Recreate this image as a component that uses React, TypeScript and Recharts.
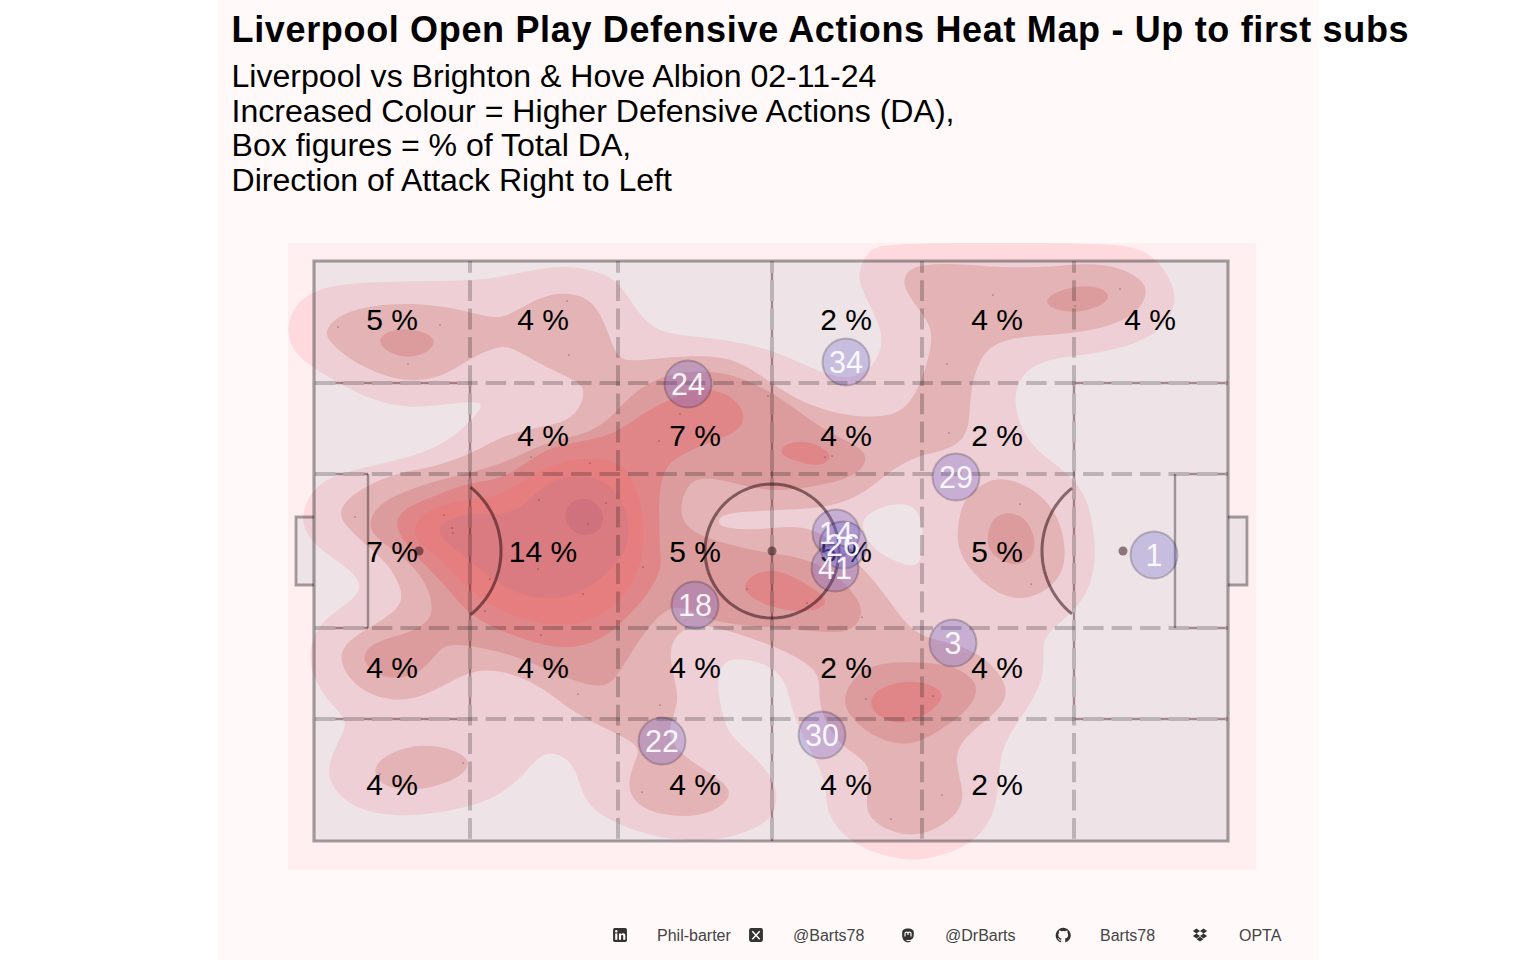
import React from "react";
import { ScatterChart, Scatter, XAxis, YAxis } from "recharts";

type P = [number, number];

const titleText = "Liverpool Open Play Defensive Actions Heat Map - Up to first subs";
const subtitleLines = [
  "Liverpool vs Brighton & Hove Albion 02-11-24",
  "Increased Colour = Higher Defensive Actions (DA),",
  "Box figures = % of Total DA,",
  "Direction of Attack Right to Left",
];

const level1: P[] = [[-26,74],[-21,91],[-1,107],[33,127],[66,142],[99,147],[126,144],[163,140],[170,144],[156,161],[133,181],[99,196],[49,207],[21,214],[-1,227],[-12,251],[-11,267],[3,287],[33,306],[48,322],[43,336],[19,352],[3,366],[-6,392],[-1,416],[13,439],[29,454],[33,466],[21,486],[13,509],[19,529],[43,549],[83,556],[126,552],[173,542],[206,519],[223,496],[236,491],[253,496],[263,512],[269,536],[286,556],[336,576],[386,581],[419,576],[456,562],[466,536],[453,506],[416,476],[409,457],[401,416],[413,394],[453,402],[473,419],[478,454],[499,494],[513,522],[511,546],[523,569],[549,589],[593,601],[626,596],[666,579],[686,542],[683,489],[713,449],[731,416],[728,386],[733,372],[756,354],[776,329],[781,299],[781,284],[776,241],[756,212],[716,187],[701,151],[701,127],[713,107],[739,97],[773,94],[823,84],[854,64],[866,31],[839,-9],[806,-18],[686,-18],[566,-18],[553,-9],[543,14],[549,31],[566,64],[569,84],[559,107],[539,117],[519,116],[486,102],[453,87],[403,77],[353,74],[329,61],[306,21],[286,11],[246,3],[196,14],[166,20],[86,20],[16,23],[-14,37],[-26,59]];
const level1Hole: P[] = [[543,261],[563,246],[593,241],[606,251],[609,274],[608,299],[599,307],[579,299],[559,289]];

const level2Main: P[] = [[10,71],[23,54],[59,44],[99,42],[133,46],[159,52],[183,58],[199,52],[226,36],[249,31],[273,36],[286,51],[296,77],[303,96],[316,101],[353,96],[396,94],[429,101],[459,124],[493,144],[536,156],[573,156],[593,147],[608,121],[619,81],[616,61],[593,34],[588,17],[599,4],[639,2],[689,7],[739,6],[773,2],[806,6],[829,19],[834,32],[823,54],[786,69],[739,74],[699,76],[669,87],[656,127],[656,161],[649,181],[626,191],[606,194],[579,207],[553,231],[519,246],[473,249],[409,251],[403,261],[409,267],[436,269],[459,267],[499,264],[536,294],[563,322],[586,356],[606,376],[639,382],[673,396],[698,429],[683,452],[649,476],[639,499],[653,536],[639,559],[606,576],[579,572],[556,559],[551,542],[558,509],[546,496],[529,486],[513,466],[503,436],[509,409],[459,384],[419,371],[386,362],[366,369],[353,389],[363,426],[364,446],[351,474],[369,496],[413,522],[418,536],[399,552],[366,557],[326,549],[311,526],[323,496],[326,486],[306,474],[259,452],[233,429],[199,412],[166,407],[139,419],[109,436],[79,441],[43,429],[23,399],[33,379],[66,361],[86,346],[89,332],[79,309],[59,289],[23,259],[29,241],[53,224],[86,211],[116,207],[156,194],[183,177],[219,167],[253,161],[266,147],[271,131],[266,121],[233,107],[199,87],[186,84],[156,97],[133,114],[99,122],[66,114],[33,97],[16,81]];
const level2Right: P[] = [[643,267],[649,237],[673,219],[693,217],[719,227],[743,251],[751,281],[751,306],[739,326],[709,341],[679,331],[656,309],[644,289]];
const level2Lower: P[] = [[59,507],[73,492],[109,482],[143,489],[159,502],[143,519],[109,529],[79,529],[63,519]];

const level3TopLeft: P[] = [[64,81],[69,72],[89,67],[113,71],[123,81],[113,92],[93,98],[73,91]];
const level3TopRight: P[] = [[729,39],[746,29],[769,24],[789,27],[797,36],[786,46],[763,52],[739,49]];
const level3Right: P[] = [[673,274],[678,257],[694,250],[713,257],[722,279],[719,296],[703,306],[686,299],[674,289]];
const level3Lower: P[] = [[528,439],[539,416],[563,401],[606,401],[639,404],[668,422],[656,449],[626,469],[606,481],[586,484],[559,476],[536,456]];
const level3Main: P[] = [[54,261],[66,241],[99,227],[133,217],[156,212],[193,201],[219,187],[249,177],[279,171],[303,151],[319,131],[353,112],[396,109],[429,117],[463,134],[493,157],[519,174],[549,187],[554,201],[539,217],[499,226],[459,231],[426,224],[396,216],[376,219],[366,241],[368,261],[383,274],[416,284],[453,292],[486,296],[519,309],[546,339],[549,356],[536,372],[503,371],[456,366],[419,364],[386,356],[359,339],[329,372],[313,399],[299,422],[283,427],[249,416],[206,396],[166,386],[133,382],[123,392],[109,409],[93,417],[66,417],[49,402],[51,389],[66,379],[99,371],[116,359],[119,346],[113,322],[93,299],[76,287],[59,274]];

const level4Main: P[] = [[79,264],[89,247],[123,234],[153,222],[183,219],[206,207],[226,191],[253,182],[299,176],[329,151],[366,134],[386,127],[413,131],[433,151],[426,171],[396,181],[366,194],[349,207],[344,241],[346,274],[346,294],[348,306],[336,332],[306,364],[286,379],[259,388],[226,384],[183,369],[153,352],[133,326],[113,306],[96,289]];
const level4Mid: P[] = [[465,189],[473,182],[493,179],[513,189],[518,197],[506,206],[486,201],[471,197]];
const level4Centre: P[] = [[428,326],[439,312],[463,308],[486,319],[513,336],[511,347],[486,352],[456,346],[436,336]];
const level4Lower: P[] = [[553,439],[569,424],[599,419],[619,424],[632,434],[619,449],[606,457],[586,464],[563,456]];

const level5: P[] = [[99,267],[109,251],[143,239],[179,237],[199,227],[233,204],[266,197],[299,197],[319,214],[329,251],[331,294],[316,329],[293,352],[266,364],[226,364],[183,349],[156,329],[133,306],[116,289],[103,281]];
const level6: P[] = [[123,267],[133,259],[153,252],[183,254],[206,249],[229,224],[253,214],[286,216],[306,234],[316,261],[314,284],[306,299],[286,319],[259,336],[226,339],[193,329],[166,309],[143,289],[129,279]];
const level7: P[] = [[249,254],[256,241],[269,236],[283,241],[291,256],[286,271],[269,276],[256,269]];

const eventXs = [24,94,126,253,255,217,276,225,292,274,130,138,139,41,366,345,454,518,511,679,633,635,706,806,761,176,171,224,269,227,264,149,66,329,433,493,548,346,328,552,619,577,717,628,668];
const eventYs = [66,103,64,40,94,196,202,239,242,263,254,267,272,256,153,180,135,195,196,34,103,172,243,28,45,318,350,308,333,374,433,502,513,306,328,342,356,444,531,438,435,558,323,534,418];

const boxXs = [78,229,381,532,683,836];
const boxYs = [58,174,290,406,523];
const boxRows: (string | null)[][] = [
  ["5 %","4 %",null,"2 %","4 %","4 %"],
  [null,"4 %","7 %","4 %","2 %",null],
  ["7 %","14 %","5 %","5 %","5 %",null],
  ["4 %","4 %","4 %","2 %","4 %",null],
  ["4 %",null,"4 %","4 %","2 %",null],
];

const playerNumbers = ["1","3","30","29","34","22","18","24","14","26","41"];
const playerXs = [840,639,508,642,532,348,381,374,522,529,521];
const playerYs = [294,382,474,216,101,480,344,123,272,284,307];

const dashedXs = [156,304,458,608,760];
const dashedYs = [122,213,367,458];

const creditLabels = ["Phil-barter","@Barts78","@DrBarts","Barts78","OPTA"];
const creditTextLeft = [657,793,945,1100,1239];
const creditIconLeft = [611.5,747.5,899.5,1054.5,1191.5];

const PITCH_W = 914;
const PITCH_H = 580;
const H_DASH = 20.45;
const H_GAP = 8;
const V_DASH = 20.8;
const V_GAP = 7.5;
const V_PHASE = 9;
const H_START = 1;

const toPts = (a: P[]) => a.map(([x, y]) => ({ x, y }));
const arc = (cx: number, cy: number, r: number, from: number, to: number) => {
  const pts: { x: number; y: number }[] = [];
  for (let i = 0; i <= 72; i++) {
    const t = ((from + ((to - from) * i) / 72) * Math.PI) / 180;
    pts.push({ x: cx + r * Math.cos(t), y: cy + r * Math.sin(t) });
  }
  return pts;
};

const NoDot = () => <g />;
const EventDot = (p: any) => <circle cx={p.cx} cy={p.cy} r={0.5} fill="#2a0a0a" />;
const SpotDot = (p: any) => <circle cx={p.cx} cy={p.cy} r={4.5} fill="#1e0005" fillOpacity={0.48} />;
const BoxText = (p: any) => (
  <text x={p.cx} y={p.cy} textAnchor="middle" dominantBaseline="central" fontFamily="'Liberation Sans', Arial, sans-serif" fontSize={30} fill="#000">
    {p.payload.label}
  </text>
);
const PlayerDot = (p: any) => (
  <circle cx={p.cx} cy={p.cy} r={23.5} fill="#645ACD" fillOpacity={0.28} stroke="#000" strokeOpacity={0.2} strokeWidth={2} />
);
const PlayerText = (p: any) => (
  <text x={p.cx} y={p.cy} textAnchor="middle" dominantBaseline="central" fontFamily="'Liberation Sans', Arial, sans-serif" fontSize={30.5} fill="#fff" fillOpacity={0.92}>
    {p.payload.label}
  </text>
);

const fillLayers: { pts: P[]; fill: string }[] = [
  { pts: level1, fill: "#FEDADE" },
  { pts: level1Hole, fill: "#FFEFF0" },
  { pts: level2Main, fill: "#F4BBBB" },
  { pts: level2Right, fill: "#F4BBBB" },
  { pts: level2Lower, fill: "#F4BBBB" },
  { pts: level3Main, fill: "#ECA2A2" },
  { pts: level3TopLeft, fill: "#ECA2A2" },
  { pts: level3TopRight, fill: "#ECA2A2" },
  { pts: level3Right, fill: "#ECA2A2" },
  { pts: level3Lower, fill: "#ECA2A2" },
  { pts: level4Main, fill: "#F08A8A" },
  { pts: level4Mid, fill: "#F08A8A" },
  { pts: level4Centre, fill: "#F08A8A" },
  { pts: level4Lower, fill: "#F08A8A" },
  { pts: level5, fill: "#F78281" },
  { pts: level6, fill: "#EA7E83" },
  { pts: level7, fill: "#DE757E" },
];

const outline: P[] = [[0,0],[PITCH_W,0],[PITCH_W,PITCH_H],[0,PITCH_H]];
const goalLeft: P[] = [[0,256],[-18,256],[-18,324],[0,324]];
const goalRight: P[] = [[914,256],[933,256],[933,324],[914,324]];
// marking lines that run under the dashed grid: they only show through its gaps
const hiddenH: P[][] = [
  [[H_START,122],[156,122]],
  [[H_START,458],[156,458]],
  [[H_START,213],[54,213]],
  [[H_START,367],[54,367]],
  [[760,122],[PITCH_W,122]],
  [[760,458],[PITCH_W,458]],
  [[861,213],[PITCH_W,213]],
  [[861,367],[PITCH_W,367]],
];
const hiddenV: P[][] = [
  [[156,122],[156,458]],
  [[760,122],[760,458]],
  [[458,0],[458,PITCH_H]],
];
const sixLines: P[][] = [
  [[54,213],[54,367]],
  [[861,213],[861,367]],
];

const xAxisProps = { type: "number" as const, dataKey: "x", domain: [-26, 942] as [number, number], hide: true };
const yAxisProps = { type: "number" as const, dataKey: "y", domain: [-18, 609] as [number, number], reversed: true, hide: true };

const boxData = boxRows.flatMap((row, r) =>
  row.flatMap((label, c) => (label ? [{ x: boxXs[c], y: boxYs[r], label }] : []))
);
const playerData = playerNumbers.map((label, i) => ({ x: playerXs[i], y: playerYs[i], label }));
const eventData = eventXs.map((x, i) => ({ x, y: eventYs[i] }));

const BLACK_LINE = "#000";
const ARC = "#1e0005";
const GAP_LINE = "#3a0a10";

const Icon = ({ i }: { i: number }) => {
  const common = { width: 16, height: 16, viewBox: "0 0 15 15", style: { position: "absolute" as const, left: creditIconLeft[i], top: 926.5 } };
  if (i === 0)
    return (
      <svg {...common}>
        <rect x="1" y="1" width="13" height="13" rx="1.5" fill="#333" />
        <rect x="3" y="6" width="2" height="6" fill="#fff" />
        <circle cx="4" cy="4" r="1.1" fill="#fff" />
        <path d="M6.5 6h2v1c.5-.8 1.2-1.1 2-1.1 1.4 0 2 1 2 2.4V12h-2V8.6c0-.7-.3-1-.9-1s-1.1.4-1.1 1.1V12h-2z" fill="#fff" />
      </svg>
    );
  if (i === 1)
    return (
      <svg {...common}>
        <rect x="1" y="1" width="13" height="13" rx="2" fill="#333" />
        <path d="M4 4l7 7.5M11 4L4 11.5" stroke="#fff" strokeWidth="1.4" />
      </svg>
    );
  if (i === 2)
    return (
      <svg {...common}>
        <path d="M2 5.5C2 3 3.6 1.5 7.5 1.5S13 3 13 5.5c0 3.5-.3 6-3.5 6.6-1.5.3-3 .2-4-.1.3 1.2 2.5 1.4 5 .8-1 1.3-3 1.7-4.8 1.2C2.5 13 2 10 2 5.5z" fill="#333" />
        <path d="M4.7 9V6c0-1.7 2.8-1.7 2.8 0v1.5M7.5 7.5V6c0-1.7 2.8-1.7 2.8 0v3" stroke="#fff" strokeWidth="1.1" fill="none" />
      </svg>
    );
  if (i === 3)
    return (
      <svg {...common}>
        <path d="M7.5.8a7 7 0 0 0-2.2 13.6c.4.1.5-.2.5-.4v-1.3c-2 .4-2.4-.9-2.4-.9-.3-.8-.8-1-.8-1-.6-.4 0-.4 0-.4.7 0 1.1.7 1.1.7.6 1.1 1.7.8 2.1.6.1-.5.3-.8.5-1-1.6-.2-3.2-.8-3.2-3.5 0-.8.3-1.4.7-1.9-.1-.2-.3-.9.1-1.9 0 0 .6-.2 2 .7a7 7 0 0 1 3.6 0c1.4-.9 2-.7 2-.7.4 1 .2 1.7.1 1.900.5.5.7 1.1.7 1.9 0 2.7-1.6 3.3-3.2 3.5.3.2.5.7.5 1.3V14c0 .2.1.5.5.4A7 7 0 0 0 7.5.8z" fill="#333" />
      </svg>
    );
  return (
    <svg {...common}>
      <path d="M4.2 1.5L.8 3.8l3.4 2.3 3.3-2.3zM10.8 1.5L7.500 3.800l3.300 2.300 3.400-2.300zM.8 8.400l3.400 2.300 3.300-2.300-3.300-2.300zM10.800 6.100L7.500 8.400l3.300 2.300 3.400-2.300zM4.300 11.400l3.200 2.200 3.200-2.200-3.200-2.200z" fill="#333" />
    </svg>
  );
};

export default function App() {
  const font = "'Liberation Sans', Arial, Helvetica, sans-serif";
  return (
    <div style={{ position: "absolute", left: 0, top: 0, width: 1536, height: 960, background: "#fff", overflow: "hidden", fontFamily: font }}>
      <div style={{ position: "absolute", left: 217.5, top: 0, width: 1101, height: 960, background: "#FFF9F9" }} />
      <div style={{ position: "absolute", left: 231.5, top: 8, fontSize: 36, letterSpacing: 0.66, lineHeight: "44px", fontWeight: 700, color: "#000", whiteSpace: "nowrap" }}>{titleText}</div>
      {subtitleLines.map((t, i) => (
        <div key={t} style={{ position: "absolute", left: 231.5, top: 58 + i * 34.7, fontSize: 32.1, lineHeight: "36px", color: "#000", whiteSpace: "nowrap" }}>{t}</div>
      ))}
      <div style={{ position: "absolute", left: 0, top: 0 }}>
        <ScatterChart width={1536} height={960} margin={{ left: 288, right: 280, top: 243, bottom: 90 }}>
          <XAxis {...xAxisProps} />
          <YAxis {...yAxisProps} />
          <Scatter
            data={toPts([[-26,-18],[942,-18],[942,609],[-26,609]])}
            shape={NoDot}
            line={{ fill: "#FFEFF0", stroke: "none" }}
            lineJointType="linearClosed"
            isAnimationActive={false}
          />
          {fillLayers.map((l, i) => (
            <Scatter
              key={i}
              data={toPts(l.pts)}
              shape={NoDot}
              line={{ fill: l.fill, stroke: "none" }}
              lineJointType="basisClosed"
              isAnimationActive={false}
            />
          ))}
          {[outline, goalLeft, goalRight].map((r, i) => (
            <Scatter
              key={"ov" + i}
              data={toPts(r)}
              shape={NoDot}
              line={{ fill: "#285A78", fillOpacity: 0.08, stroke: "none" }}
              lineJointType="linearClosed"
              isAnimationActive={false}
            />
          ))}
          <Scatter data={eventData} shape={EventDot} isAnimationActive={false} />
          {dashedXs.map((x) => (
            <Scatter
              key={"dx" + x}
              data={toPts([[x,0],[x,PITCH_H]])}
              shape={NoDot}
              line={{ stroke: BLACK_LINE, strokeOpacity: 0.21, strokeWidth: 4, strokeDasharray: `${V_DASH} ${V_GAP}`, strokeDashoffset: V_PHASE, fill: "none" }}
              isAnimationActive={false}
            />
          ))}
          {dashedYs.map((y) => (
            <Scatter
              key={"dy" + y}
              data={toPts([[H_START,y],[PITCH_W,y]])}
              shape={NoDot}
              line={{ stroke: BLACK_LINE, strokeOpacity: 0.21, strokeWidth: 4, strokeDasharray: `${H_DASH} ${H_GAP}`, fill: "none" }}
              isAnimationActive={false}
            />
          ))}
          {hiddenH.map((l, i) => (
            <Scatter
              key={"hh" + i}
              data={toPts(l)}
              shape={NoDot}
              line={{ stroke: GAP_LINE, strokeOpacity: 0.42, strokeWidth: 2.4, strokeDasharray: `0 ${H_DASH} ${H_GAP} 0`, strokeDashoffset: l[0][0] - H_START, fill: "none" }}
              isAnimationActive={false}
            />
          ))}
          {hiddenV.map((l, i) => (
            <Scatter
              key={"hv" + i}
              data={toPts(l)}
              shape={NoDot}
              line={{ stroke: GAP_LINE, strokeOpacity: 0.42, strokeWidth: 2.4, strokeDasharray: `0 ${V_DASH} ${V_GAP} 0`, strokeDashoffset: l[0][1] + V_PHASE, fill: "none" }}
              isAnimationActive={false}
            />
          ))}
          {sixLines.map((l, i) => (
            <Scatter
              key={"six" + i}
              data={toPts(l)}
              shape={NoDot}
              line={{ stroke: BLACK_LINE, strokeOpacity: 0.35, strokeWidth: 2.4, fill: "none" }}
              isAnimationActive={false}
            />
          ))}
          {[goalLeft, goalRight].map((l, i) => (
            <Scatter
              key={"gl" + i}
              data={toPts(l)}
              shape={NoDot}
              line={{ stroke: BLACK_LINE, strokeOpacity: 0.35, strokeWidth: 2.8, fill: "none" }}
              isAnimationActive={false}
            />
          ))}
          <Scatter
            data={toPts(outline)}
            shape={NoDot}
            line={{ stroke: BLACK_LINE, strokeOpacity: 0.35, strokeWidth: 3.2, fill: "none" }}
            lineJointType="linearClosed"
            isAnimationActive={false}
          />
          {[arc(458, 290, 67, 0, 360), arc(105, 290, 82, -51, 51), arc(809, 290, 81, 129, 231)].map((a, i) => (
            <Scatter
              key={"arc" + i}
              data={a}
              shape={NoDot}
              line={{ stroke: ARC, strokeOpacity: 0.5, strokeWidth: 3, fill: "none" }}
              isAnimationActive={false}
            />
          ))}
          <Scatter data={toPts([[105,290],[458,290],[809,290]])} shape={SpotDot} isAnimationActive={false} />
          <Scatter data={boxData} shape={BoxText} isAnimationActive={false} />
          <Scatter data={playerData} shape={PlayerDot} isAnimationActive={false} />
          <Scatter data={playerData} shape={PlayerText} isAnimationActive={false} />
        </ScatterChart>
      </div>
      {creditLabels.map((t, i) => (
        <React.Fragment key={t}>
          <Icon i={i} />
          <div style={{ position: "absolute", left: creditTextLeft[i], top: 927, fontSize: 16, lineHeight: "18px", color: "#444", whiteSpace: "nowrap" }}>{t}</div>
        </React.Fragment>
      ))}
    </div>
  );
}
